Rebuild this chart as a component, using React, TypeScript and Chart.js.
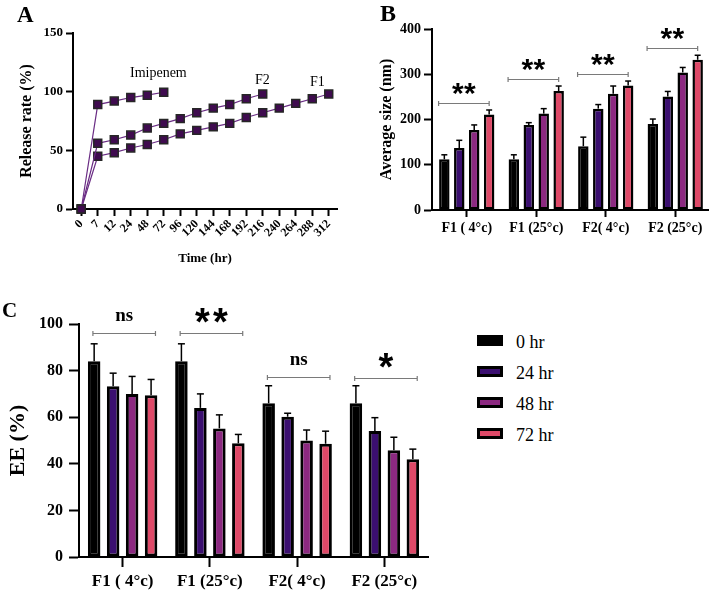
import React, { useEffect, useRef } from 'react';
import { Chart, registerables } from 'chart.js';

Chart.register(...registerables);

const SERIF = '"Liberation Serif", "Times New Roman", serif';
const SANS = '"Liberation Sans", Arial, sans-serif';

// ---------- Panel A : release profile ----------
const timeLabels = ['0', '7', '12', '24', '48', '72', '96', '120', '144', '168', '192', '216', '240', '264', '288', '312'];
const imipenemRelease = [0, 89, 92, 95, 97, 99.5];
const f2Release = [0, 56, 59, 63, 69, 73, 77, 82, 86, 89, 94, 98];
const f1Release = [0, 45, 48, 52, 55, 59, 64, 67, 70, 73, 78, 82, 86, 90, 94, 98];
const releaseSeriesNames = ['Imipenem', 'F2', 'F1'];

// ---------- Panels B & C : stability ----------
const formulations = ['F1 ( 4°c)', 'F1 (25°c)', 'F2( 4°c)', 'F2 (25°c)'];
const storageTimes = ['0 hr', '24 hr', '48 hr', '72 hr'];
const timeColors = ['#000000', '#3b0f70', '#8c2981', '#de4968'];

// Average size (nm)
const size0hr = [112, 112, 141, 190];
const size24hr = [137, 188, 224, 251];
const size48hr = [177, 213, 257, 304];
const size72hr = [211, 263, 275, 332];
const sizeErr0hr = [10, 10, 20, 11];
const sizeErr24hr = [17, 5, 9, 11];
const sizeErr48hr = [11, 11, 17, 11];
const sizeErr72hr = [10, 11, 10, 10];
const sizeSigLabels = ['**', '**', '**', '**'];
const sizeSigLevels = [236, 289, 300, 357];

// EE (%)
const ee0hr = [84, 84, 66, 66];
const ee24hr = [73.3, 64, 60.2, 54.1];
const ee48hr = [70, 55.2, 50, 45.8];
const ee72hr = [69.4, 48.8, 48.6, 42];
const eeErr0hr = [7.5, 7.5, 7.5, 7.5];
const eeErr24hr = [5.6, 6, 1.5, 5.7];
const eeErr48hr = [7.5, 5.8, 4.5, 5.6];
const eeErr72hr = [6.8, 3.8, 5.4, 4.3];
const eeSigLabels = ['ns', '**', 'ns', '*'];
const eeSigLevels = [96, 96, 77.3, 77];

const sizeSeries = [size0hr, size24hr, size48hr, size72hr];
const sizeErrors = [sizeErr0hr, sizeErr24hr, sizeErr48hr, sizeErr72hr];
const eeSeries = [ee0hr, ee24hr, ee48hr, ee72hr];
const eeErrors = [eeErr0hr, eeErr24hr, eeErr48hr, eeErr72hr];

function makeErrorBarPlugin(errors: number[][], cap: number, lw: number) {
  return {
    id: 'errorBars',
    afterDatasetsDraw(chart: any) {
      const ctx = chart.ctx;
      const ys = chart.scales.y;
      ctx.save();
      ctx.strokeStyle = '#000';
      ctx.lineWidth = lw;
      chart.data.datasets.forEach((ds: any, i: number) => {
        const meta = chart.getDatasetMeta(i);
        meta.data.forEach((el: any, j: number) => {
          const v = ds.data[j] as number;
          const e = errors[i][j];
          const yt = ys.getPixelForValue(v + e);
          ctx.beginPath();
          ctx.moveTo(el.x, el.y);
          ctx.lineTo(el.x, yt);
          ctx.stroke();
          ctx.beginPath();
          ctx.moveTo(el.x - cap / 2, yt);
          ctx.lineTo(el.x + cap / 2, yt);
          ctx.stroke();
        });
      });
      ctx.restore();
    },
  };
}

interface SigCfg {
  labels: string[];
  levels: number[];
  k0: number;
  k1: number;
  starSize: number;
  starSpacing: number;
  starGap: number;
  textSize: number;
  textGap: number;
}

function makeSigPlugin(cfg: SigCfg) {
  return {
    id: 'sigBrackets',
    afterDraw(chart: any) {
      const ctx = chart.ctx;
      const ys = chart.scales.y;
      const m0 = chart.getDatasetMeta(0);
      const mN = chart.getDatasetMeta(chart.data.datasets.length - 1);
      cfg.labels.forEach((lab, i) => {
        const b0 = m0.data[i];
        const bN = mN.data[i];
        const x1 = b0.x + cfg.k0 * b0.width;
        const x2 = bN.x + cfg.k1 * bN.width;
        const y = Math.round(ys.getPixelForValue(cfg.levels[i])) + 0.5;
        ctx.save();
        ctx.strokeStyle = '#7a7a7a';
        ctx.lineWidth = 1.2;
        ctx.beginPath();
        ctx.moveTo(x1, y);
        ctx.lineTo(x2, y);
        ctx.moveTo(x1, y - 2.5);
        ctx.lineTo(x1, y + 2.5);
        ctx.moveTo(x2, y - 2.5);
        ctx.lineTo(x2, y + 2.5);
        ctx.stroke();
        const cx = (x1 + x2) / 2;
        ctx.fillStyle = '#000';
        ctx.textAlign = 'center';
        ctx.textBaseline = 'alphabetic';
        if (lab.indexOf('*') >= 0) {
          ctx.font = `bold ${cfg.starSize}px ${SANS}`;
          const n = lab.length;
          const base = y - cfg.starGap + 0.57 * cfg.starSize;
          for (let k = 0; k < n; k++) {
            ctx.fillText('*', cx + (k - (n - 1) / 2) * cfg.starSpacing, base);
          }
        } else {
          ctx.font = `bold ${cfg.textSize}px ${SERIF}`;
          ctx.fillText(lab, cx, y - cfg.textGap + 0.23 * cfg.textSize);
        }
        ctx.restore();
      });
    },
  };
}

function axisStyle(tickLength: number) {
  return {
    grid: {
      display: true,
      drawOnChartArea: false,
      drawTicks: true,
      tickLength,
      tickWidth: 2,
      tickColor: '#000',
      offset: false,
    },
    border: { display: true, color: '#000', width: 2 },
  };
}

const txt = (left: number, top: number, size: number, bold: boolean, text: string) => (
  <div
    style={{
      position: 'absolute',
      left,
      top,
      fontFamily: SERIF,
      fontSize: size,
      fontWeight: bold ? 'bold' : 'normal',
      lineHeight: 1,
      color: '#000',
      whiteSpace: 'nowrap',
    }}
  >
    {text}
  </div>
);

export default function App() {
  const refA = useRef<HTMLCanvasElement>(null);
  const refB = useRef<HTMLCanvasElement>(null);
  const refC = useRef<HTMLCanvasElement>(null);

  useEffect(() => {
    const lineStyle = {
      borderColor: '#6a2c84',
      borderWidth: 1.2,
      pointStyle: 'rect',
      pointRadius: 5.6,
      pointBackgroundColor: '#3f0b4f',
      pointBorderColor: '#262626',
      pointBorderWidth: 1.5,
      tension: 0,
      clip: false as any,
    };
    const releaseData = [imipenemRelease, f2Release, f1Release];
    const chartA = new Chart(refA.current!, {
      type: 'line',
      data: {
        labels: timeLabels,
        datasets: releaseSeriesNames.map((name, i) => ({ label: name, data: releaseData[i], ...lineStyle })) as any,
      },
      options: {
        responsive: false,
        animation: false,
        layout: { padding: { top: 33, right: 13, left: 0, bottom: 0 } },
        plugins: { legend: { display: false }, tooltip: { enabled: false } },
        scales: {
          x: {
            type: 'category',
            offset: true,
            ...axisStyle(7),
            ticks: {
              font: { family: SERIF, weight: 'bold', size: 12 },
              color: '#000',
              minRotation: 45,
              maxRotation: 45,
              autoSkip: false,
              padding: 1,
            },
            title: {
              display: true,
              text: 'Time (hr)',
              font: { family: SERIF, weight: 'bold', size: 13 },
              color: '#000',
              padding: { top: 0, bottom: 9 },
            },
            afterFit: (s: any) => {
              s.height = 66;
            },
          },
          y: {
            min: 0,
            max: 150,
            ...axisStyle(7),
            ticks: {
              stepSize: 50,
              font: { family: SERIF, weight: 'bold', size: 13 },
              color: '#000',
              padding: 3,
            },
            title: {
              display: true,
              text: 'Release rate (%)',
              font: { family: SERIF, weight: 'bold', size: 16 },
              color: '#000',
              padding: { top: 17, bottom: 0 },
            },
            afterFit: (s: any) => {
              s.width = 73;
            },
          },
        } as any,
      },
    });

    const barDatasets = (series: number[][], bw: number, cp: number, bp: number) =>
      storageTimes.map((lab, i) => ({
        label: lab,
        data: series[i],
        backgroundColor: timeColors[i],
        borderColor: '#000',
        borderWidth: bw,
        borderSkipped: false,
        categoryPercentage: cp,
        barPercentage: bp,
      }));

    const chartB = new Chart(refB.current!, {
      type: 'bar',
      data: { labels: formulations, datasets: barDatasets(sizeSeries, 2.5, 0.86, 0.7) as any },
      options: {
        responsive: false,
        animation: false,
        layout: { padding: { top: 29, right: 5, left: 0, bottom: 0 } },
        plugins: { legend: { display: false }, tooltip: { enabled: false } },
        scales: {
          x: {
            ...axisStyle(7),
            ticks: {
              font: { family: SERIF, weight: 'bold', size: 14 },
              color: '#000',
              maxRotation: 0,
              autoSkip: false,
              padding: 3,
            },
            afterFit: (s: any) => {
              s.height = 40;
            },
          },
          y: {
            min: 0,
            max: 400,
            ...axisStyle(8),
            ticks: {
              stepSize: 100,
              font: { family: SERIF, weight: 'bold', size: 14 },
              color: '#000',
              padding: 3,
            },
            title: {
              display: true,
              text: 'Average size (nm)',
              font: { family: SERIF, weight: 'bold', size: 16 },
              color: '#000',
              padding: { top: 17, bottom: 0 },
            },
            afterFit: (s: any) => {
              s.width = 72;
            },
          },
        } as any,
      },
      plugins: [
        makeErrorBarPlugin(sizeErrors, 6, 1.5),
        makeSigPlugin({
          labels: sizeSigLabels,
          levels: sizeSigLevels,
          k0: -0.55,
          k1: 0,
          starSize: 30,
          starSpacing: 12,
          starGap: 18,
          textSize: 16,
          textGap: 14,
        }),
      ] as any,
    });

    const chartC = new Chart(refC.current!, {
      type: 'bar',
      data: { labels: formulations, datasets: barDatasets(eeSeries, 3, 0.87, 0.66) as any },
      options: {
        responsive: false,
        animation: false,
        layout: { padding: { top: 29, right: 12, left: 0, bottom: 0 } },
        plugins: { legend: { display: false }, tooltip: { enabled: false } },
        scales: {
          x: {
            ...axisStyle(10),
            ticks: {
              font: { family: SERIF, weight: 'bold', size: 17 },
              color: '#000',
              maxRotation: 0,
              autoSkip: false,
              padding: 4,
            },
            afterFit: (s: any) => {
              s.height = 34;
            },
          },
          y: {
            min: 0,
            max: 100,
            ...axisStyle(10),
            ticks: {
              stepSize: 20,
              font: { family: SERIF, weight: 'bold', size: 16 },
              color: '#000',
              padding: 6,
            },
            title: {
              display: true,
              text: 'EE (%)',
              font: { family: SERIF, weight: 'bold', size: 22 },
              color: '#000',
              padding: { top: 5, bottom: 0 },
            },
            afterFit: (s: any) => {
              s.width = 79;
            },
          },
        } as any,
      },
      plugins: [
        makeErrorBarPlugin(eeErrors, 7, 1.5),
        makeSigPlugin({
          labels: eeSigLabels,
          levels: eeSigLevels,
          k0: -0.1,
          k1: 0.35,
          starSize: 38,
          starSpacing: 18,
          starGap: 20,
          textSize: 19,
          textGap: 16.5,
        }),
      ] as any,
    });

    return () => {
      chartA.destroy();
      chartB.destroy();
      chartC.destroy();
    };
  }, []);

  return (
    <div
      style={{
        position: 'absolute',
        left: 0,
        top: 0,
        width: 709,
        height: 591,
        overflow: 'hidden',
        background: '#fff',
      }}
    >
      <canvas ref={refA} width={350} height={275} style={{ position: 'absolute', left: 0, top: 0 }} />
      <canvas ref={refB} width={355} height={250} style={{ position: 'absolute', left: 360, top: 0 }} />
      <canvas ref={refC} width={440} height={296} style={{ position: 'absolute', left: 0, top: 295 }} />

      {txt(17, 3, 23, true, 'A')}
      {txt(380, 1, 24, true, 'B')}
      {txt(2, 299.5, 21, true, 'C')}

      {txt(130, 66, 14, false, releaseSeriesNames[0])}
      {txt(255, 72.5, 14, false, releaseSeriesNames[1])}
      {txt(310, 75, 14, false, releaseSeriesNames[2])}

      {storageTimes.map((lab, i) => (
        <React.Fragment key={lab}>
          <div
            style={{
              position: 'absolute',
              left: 477,
              top: 335 + i * 31.1,
              width: 26,
              height: 11,
              boxSizing: 'border-box',
              border: '3px solid #000',
              background: timeColors[i],
            }}
          />
          {txt(516, 333 + i * 31.1, 18, false, lab)}
        </React.Fragment>
      ))}
    </div>
  );
}
